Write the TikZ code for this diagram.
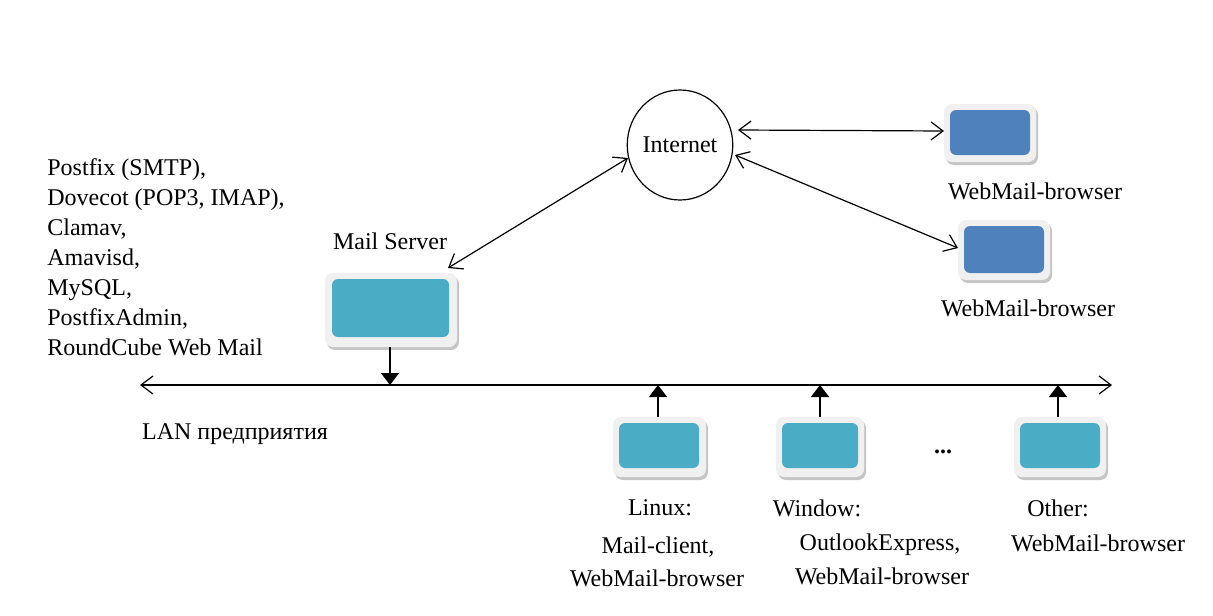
\documentclass[tikz,border=0pt]{standalone}
\usepackage{fontspec}
\setmainfont{Liberation Serif}
\usetikzlibrary{shadows,arrows.meta,shapes.geometric}
\definecolor{teal1}{HTML}{4BACC6}
\definecolor{blue1}{HTML}{4F81BD}
\begin{document}
\begin{tikzpicture}
        [x=0.5pt,y=-0.5pt, every node/.style={font=\fontsize{12}{14}\selectfont},
         frame/.style={fill=black!6,rounded corners=4pt,drop shadow={shadow xshift=1pt,shadow yshift=-1.5pt,fill=black!45}},
         screen/.style={rounded corners=3pt},
         link/.style={line width=0.6pt,{Straight Barb[length=6pt,width=9pt]}-{Straight Barb[length=6pt,width=9pt]}},
         tap/.style={line width=0.6pt,-{Triangle[length=6pt,width=9pt]}}]

        \useasboundingbox (0,0) rectangle (1213,615);

        \node[draw,ellipse,line width=0.6pt,inner sep=0,minimum width=49pt,minimum height=55pt] (inet) at (680,145) {Internet};

        % boxes
        \path[frame] (944,104) rectangle (1036,162); \fill[blue1,screen] (950,110) rectangle (1030,155);
        \path[frame] (958,220) rectangle (1050,280); \fill[blue1,screen] (964,226) rectangle (1044,273);
        \path[frame] (325,273) rectangle (457,347); \fill[teal1,screen] (332,279) rectangle (449,337);
        \path[frame] (613,417) rectangle (706,477); \fill[teal1,screen] (619,423) rectangle (699,468);
        \path[frame] (776,417) rectangle (864,477); \fill[teal1,screen] (782,423) rectangle (858,468);
        \path[frame] (1014,417) rectangle (1106,477); \fill[teal1,screen] (1020,423) rectangle (1100,468);

        \coordinate (i1) at (738,130);
        \coordinate (i2) at (735,155);
        \coordinate (i3) at (628,158);
        \coordinate (wb1) at (944,131);
        \coordinate (wb2) at (958,248);
        \coordinate (ms) at (448,268);
        \coordinate (msbot) at (390,347);
        \coordinate (lanl) at (140,385);
        \coordinate (lanr) at (1112,385);
        \coordinate (bus1) at (390,385);
        \coordinate (c1) at (658,417);
        \coordinate (c1b) at (658,385);
        \coordinate (c2) at (820,417);
        \coordinate (c2b) at (820,385);
        \coordinate (c3) at (1058,417);
        \coordinate (c3b) at (1058,385);

        \draw[link] (i1) -- (wb1);
        \draw[link] (i2) -- (wb2);
        \draw[link] (i3) -- (ms);

        \draw[link] (lanl) -- (lanr);
        \draw[tap] (msbot) -- (bus1);
        \draw[tap] (c1) -- (c1b);
        \draw[tap] (c2) -- (c2b);
        \draw[tap] (c3) -- (c3b);

        % labels
        \node[anchor=west,align=left,inner sep=0] (soft) at (47,257) {Postfix (SMTP),\\[1pt] Dovecot (POP3, IMAP),\\[1pt] Clamav,\\[1pt] Amavisd,\\[1pt] MySQL,\\[1pt] PostfixAdmin,\\[1pt] RoundCube Web Mail};
        \node (msl) at (390,241) {Mail Server};
        \node (wl1) at (1035,191) {WebMail-browser};
        \node (wl2) at (1028,308) {WebMail-browser};
        \node (lan) at (235,434) {LAN предприятия};
        \node (dots) at (943,452) {\textbf{...}};
        \node (lx) at (660,508) {Linux:};
        \node (lx1) at (658,547) {Mail-client,};
        \node (lx2) at (657,578) {WebMail-browser};
        \node (wn) at (817,508) {Window:};
        \node (wn1) at (880,545) {OutlookExpress,};
        \node (wn2) at (882,576) {WebMail-browser};
        \node (ot) at (1058,508) {Other:};
        \node (ot1) at (1098,543) {WebMail-browser};
      \end{tikzpicture}
\end{document}
